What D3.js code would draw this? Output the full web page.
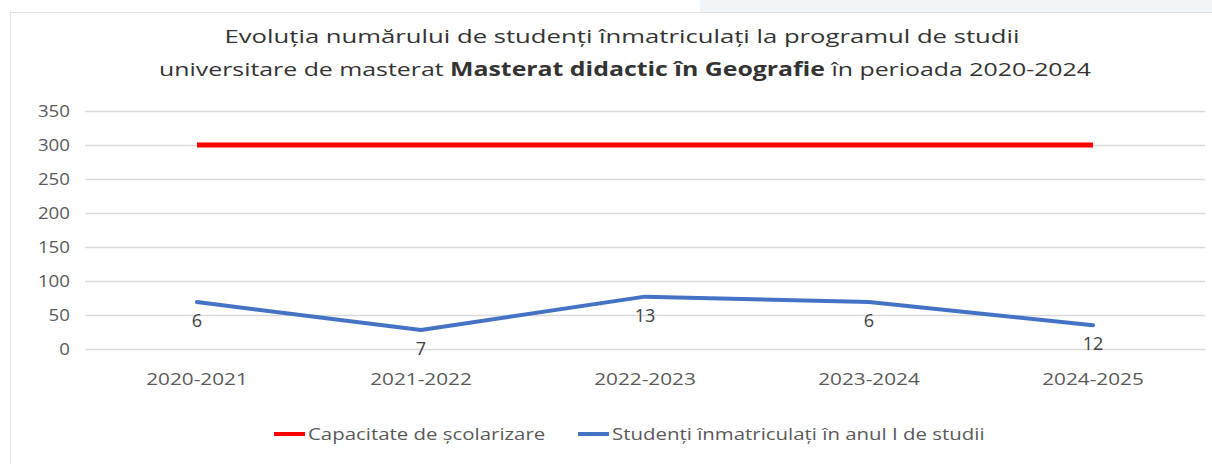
<!DOCTYPE html>
<html>
<head>
<meta charset="utf-8">
<script src="https://cdn.jsdelivr.net/npm/d3@7"></script>
<style>
  body { margin: 0; background: #fff; }
  text { font-family: "Open Sans", sans-serif; }
</style>
</head>
<body>
<svg id="chart" width="1212" height="464"></svg>
<script>
const years = ['2020-2021', '2021-2022', '2022-2023', '2023-2024', '2024-2025'];
const capacity = [300, 300, 300, 300, 300];
const enrolled = [69, 28, 77, 69, 35];
const enrolledLabels = ['6', '7', '13', '6', '12'];
const yTicks = [0, 50, 100, 150, 200, 250, 300, 350];

let svg = d3.select('#chart');

// widen text a bit, the original font is drawn stretched
function stretch(sel, factor) {
  sel.each(function () {
    let w = this.getComputedTextLength();
    d3.select(this).attr('textLength', w * factor).attr('lengthAdjust', 'spacingAndGlyphs');
  });
}

// faint page background above the chart box
svg.append('rect').attr('x', 700).attr('y', 0).attr('width', 512).attr('height', 13)
  .attr('fill', '#f1f5f8');

// chart frame
svg.append('rect')
  .attr('x', 10.5).attr('y', 12.5)
  .attr('width', 1210).attr('height', 460)
  .attr('fill', '#fff')
  .attr('stroke', '#e3e3e3');

let x = d3.scaleBand().domain(years).range([85, 1205]);
let y = d3.scaleLinear().domain([0, 350]).range([349, 111]);
let cx = (i) => x(years[i]) + x.bandwidth() / 2;

// title
let title = svg.append('g').attr('text-anchor', 'middle').attr('fill', '#333').attr('font-size', 19);
let t1 = title.append('text').attr('x', 622).attr('y', 43)
  .text('Evoluția numărului de studenți înmatriculați la programul de studii');
let t2 = title.append('text').attr('x', 625).attr('y', 76);
t2.append('tspan').text('universitare de masterat ');
t2.append('tspan').attr('font-weight', 'bold').text('Masterat didactic în Geografie');
t2.append('tspan').text(' în perioada 2020-2024');
t1.attr('textLength', 795).attr('lengthAdjust', 'spacingAndGlyphs');
t2.attr('textLength', 932).attr('lengthAdjust', 'spacingAndGlyphs');

// grid
svg.append('g').selectAll('line').data(yTicks).join('line')
  .attr('x1', 85).attr('x2', 1205)
  .attr('y1', (d) => Math.round(y(d)) + 0.5)
  .attr('y2', (d) => Math.round(y(d)) + 0.5)
  .attr('stroke', '#d9d9d9').attr('stroke-width', 1.3);

// y labels
let yl = svg.append('g').selectAll('text').data(yTicks).join('text')
  .attr('x', 70).attr('y', (d) => y(d) + 6)
  .attr('text-anchor', 'end')
  .attr('font-size', 17)
  .attr('fill', '#595959')
  .text((d) => d);
stretch(yl, 1.1);

// x labels
let xl = svg.append('g').selectAll('text').data(years).join('text')
  .attr('x', (d, i) => cx(i))
  .attr('y', 385)
  .attr('text-anchor', 'middle')
  .attr('font-size', 17)
  .attr('fill', '#595959')
  .text((d) => d);
stretch(xl, 1.22);

let line = d3.line()
  .x((d, i) => cx(i))
  .y((d) => y(d));

svg.append('path').datum(capacity)
  .attr('d', line).attr('fill', 'none')
  .attr('stroke', '#ff0000').attr('stroke-width', 5);

svg.append('path').datum(enrolled)
  .attr('d', line).attr('fill', 'none')
  .attr('stroke', '#4472c4').attr('stroke-width', 4)
  .attr('stroke-linejoin', 'round').attr('stroke-linecap', 'round');

// data labels under the blue points
svg.append('g').selectAll('text').data(enrolled).join('text')
  .attr('x', (d, i) => cx(i))
  .attr('y', (d) => y(d) + 25)
  .attr('text-anchor', 'middle')
  .attr('font-size', 18)
  .attr('fill', '#404040')
  .text((d, i) => enrolledLabels[i]);

// legend
let legend = [
  { name: 'Capacitate de școlarizare', color: '#ff0000', x: 274 },
  { name: 'Studenți înmatriculați în anul I de studii', color: '#4472c4', x: 578 },
];
let lg = svg.append('g').selectAll('g').data(legend).join('g')
  .attr('transform', (d) => `translate(${d.x},434)`);
lg.append('line').attr('x1', 0).attr('x2', 31)
  .attr('stroke', (d) => d.color).attr('stroke-width', 4);
let lt = lg.append('text').attr('x', 34).attr('y', 6)
  .attr('font-size', 17).attr('fill', '#595959')
  .text((d) => d.name);
stretch(lt, 1.2);
</script>
</body>
</html>
